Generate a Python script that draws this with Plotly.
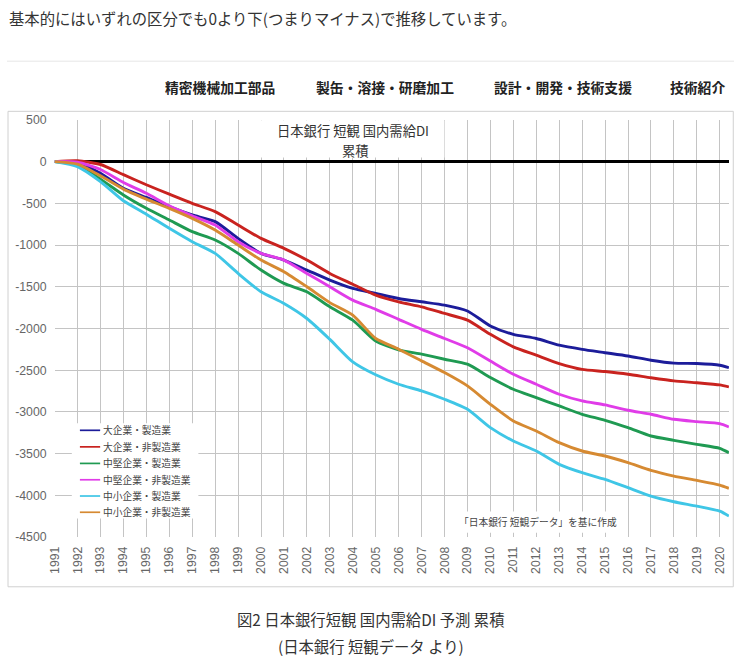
import plotly.graph_objects as go

# ---------------- data ----------------
years = [1991, 1992, 1993, 1994, 1995, 1996, 1997, 1998, 1999, 2000,
         2001, 2002, 2003, 2004, 2005, 2006, 2007, 2008, 2009, 2010,
         2011, 2012, 2013, 2014, 2015, 2016, 2017, 2018, 2019, 2020, 2020.4]

series_names = ["大企業・製造業", "大企業・非製造業", "中堅企業・製造業",
                "中堅企業・非製造業", "中小企業・製造業", "中小企業・非製造業"]
series_colors = ["#1c1c9a", "#c9231f", "#1f9a52", "#e03ce8", "#3fc6e6", "#d68a32"]

large_mfg = [0, -15, -140, -320, -430, -540, -640, -720, -920, -1100,
             -1180, -1300, -1420, -1520, -1580, -1640, -1680, -1720, -1790, -1970,
             -2070, -2120, -2200, -2250, -2290, -2330, -2380, -2415, -2420, -2440, -2470]
large_nonmfg = [0, 10, -35, -157, -278, -390, -500, -600, -760, -920,
                -1040, -1180, -1340, -1470, -1600, -1680, -1740, -1820, -1900, -2070,
                -2220, -2320, -2420, -2490, -2516, -2548, -2590, -2628, -2650, -2676, -2700]
mid_mfg = [0, -40, -210, -400, -560, -700, -840, -940, -1100, -1300,
           -1460, -1560, -1740, -1900, -2150, -2256, -2308, -2368, -2428, -2588,
           -2728, -2828, -2928, -3028, -3100, -3188, -3288, -3340, -3388, -3436, -3488]
mid_nonmfg = [0, -8, -95, -250, -380, -530, -650, -760, -960, -1100,
              -1180, -1340, -1500, -1660, -1770, -1890, -2010, -2120, -2230, -2390,
              -2548, -2668, -2788, -2868, -2916, -2980, -3028, -3088, -3116, -3140, -3180]
small_mfg = [0, -60, -240, -470, -630, -800, -960, -1100, -1340, -1560,
             -1700, -1880, -2130, -2400, -2555, -2668, -2748, -2848, -2968, -3188,
             -3348, -3468, -3628, -3728, -3808, -3908, -4008, -4076, -4128, -4188, -4248]
small_nonmfg = [0, -30, -170, -330, -450, -560, -680, -820, -1000, -1180,
                -1320, -1500, -1690, -1840, -2120, -2248, -2388, -2528, -2688, -2908,
                -3108, -3228, -3368, -3468, -3528, -3608, -3700, -3768, -3820, -3876, -3916]

series_values = [large_mfg, large_nonmfg, mid_mfg, mid_nonmfg, small_mfg, small_nonmfg]

tick_years = list(range(1991, 2021))
tick_labels = [str(y) for y in tick_years]
y_ticks = list(range(-4500, 501, 500))

chart_title_1 = "日本銀行 短観 国内需給DI"
chart_title_2 = "累積"
credit_text = "「日本銀行 短観データ」を基に作成"
intro_text = "基本的にはいずれの区分でも0より下(つまりマイナス)で推移しています。"
menu_items = ["精密機械加工部品", "製缶・溶接・研磨加工", "設計・開発・技術支援", "技術紹介"]
caption_1 = "図2 日本銀行短観 国内需給DI 予測 累積"
caption_2 = "(日本銀行 短観データ より)"

# ---------------- layout helpers ----------------
W, H = 734, 660
FRAME = 8                         # border of the photograph around the page
SX = (W - 2 * FRAME) / W
SY = (H - 2 * FRAME) / H
S = (SX + SY) / 2

def px(x):
    return ((x - FRAME) / SX) / W
def py(y):
    return 1 - ((y - FRAME) / SY) / H
def fs(size):
    return size / S

JP = "Noto Sans CJK JP"
AX = "Liberation Sans, Arial, Noto Sans CJK JP"

fig = go.Figure()
for name, color, vals in zip(series_names, series_colors, series_values):
    fig.add_trace(go.Scatter(
        x=years, y=vals, mode="lines", name=name,
        line=dict(color=color, width=2.9, shape="spline", smoothing=0.6),
        showlegend=False, hoverinfo="x+y+name"))

shapes = []
annotations = []

# header line
shapes.append(dict(type="line", xref="paper", yref="paper",
                   x0=0, x1=1, y0=py(62), y1=py(62),
                   line=dict(color="#e6e6e6", width=1)))
# chart image frame
shapes.append(dict(type="rect", xref="paper", yref="paper",
                   x0=px(9), x1=min(px(732), 0.999), y0=py(586), y1=py(112),
                   line=dict(color="#d0d0d0", width=1), layer="above"))
# title box
shapes.append(dict(type="rect", xref="paper", yref="paper",
                   x0=px(258), x1=px(440), y0=py(158), y1=py(121),
                   fillcolor="white", line=dict(width=0), layer="above"))
# legend box
shapes.append(dict(type="rect", xref="paper", yref="paper",
                   x0=px(72), x1=px(197), y0=py(518), y1=py(423),
                   fillcolor="white", line=dict(width=0), layer="above"))
# credit box
shapes.append(dict(type="rect", xref="paper", yref="paper",
                   x0=px(450), x1=px(613), y0=py(532), y1=py(511),
                   fillcolor="white", line=dict(width=0), layer="above"))

legend_rows = [430, 446.5, 463, 479.3, 495.5, 511.7]
for name, color, yy in zip(series_names, series_colors, legend_rows):
    shapes.append(dict(type="line", xref="paper", yref="paper",
                       x0=px(80), x1=px(100), y0=py(yy), y1=py(yy),
                       line=dict(color=color, width=1.7), layer="above"))
    annotations.append(dict(x=px(101), y=py(yy), xref="paper", yref="paper",
                            text=name, showarrow=False, xanchor="left", yanchor="middle",
                            font=dict(family=JP, size=fs(9.5), color="#444")))

annotations += [
    dict(x=px(350), y=py(131.5), text=chart_title_1),
    dict(x=px(352), y=py(151), text=chart_title_2),
]
for a in annotations[-2:]:
    a.update(xref="paper", yref="paper", showarrow=False, xanchor="center",
             yanchor="middle", font=dict(family=JP, size=fs(13), color="#333"))

annotations.append(dict(x=px(532), y=py(521), xref="paper", yref="paper",
                        text=credit_text, showarrow=False, xanchor="center", yanchor="middle",
                        font=dict(family=JP, size=fs(9.5), color="#444")))

annotations.append(dict(x=0, y=py(19), xref="paper", yref="paper", text=intro_text,
                        showarrow=False, xanchor="left", yanchor="middle",
                        font=dict(family=JP, size=fs(15), color="#333")))

menu_x = [218, 381, 557, 690]
for t, mx in zip(menu_items, menu_x):
    annotations.append(dict(x=px(mx), y=py(88), xref="paper", yref="paper",
                            text="<b>" + t + "</b>", showarrow=False,
                            xanchor="center", yanchor="middle",
                            font=dict(family=JP, size=fs(13.5), color="#222")))

annotations.append(dict(x=px(367), y=py(618), xref="paper", yref="paper", text=caption_1,
                        showarrow=False, xanchor="center", yanchor="middle",
                        font=dict(family=JP, size=fs(15), color="#333")))
annotations.append(dict(x=px(367), y=py(645), xref="paper", yref="paper", text=caption_2,
                        showarrow=False, xanchor="center", yanchor="middle",
                        font=dict(family=JP, size=fs(15), color="#333")))

fig.update_layout(
    width=W, height=H,
    margin=dict(l=0, r=0, t=0, b=0),
    paper_bgcolor="white", plot_bgcolor="white",
    showlegend=False,
    shapes=shapes, annotations=annotations,
    xaxis=dict(domain=[px(55), px(721)], range=[1991, 2020.4],
               tickvals=tick_years, ticktext=tick_labels, tickangle=-90,
               showgrid=True, gridcolor="#c4c4c4", gridwidth=1,
               zeroline=False, showline=False, ticks="",
               ticklabelstandoff=6,
               tickfont=dict(family=AX, size=fs(12), color="#666")),
    yaxis=dict(domain=[py(536.5), py(120.5)], range=[-4500, 500],
               tickvals=y_ticks, ticktext=[str(v) for v in y_ticks],
               showgrid=True, gridcolor="#c4c4c4", gridwidth=1,
               zeroline=True, zerolinecolor="#000", zerolinewidth=2.5,
               showline=False, ticks="", ticklabelstandoff=7,
               tickfont=dict(family=AX, size=fs(12), color="#666")),
)

fig.write_html(
    "out.html",
    config={"displayModeBar": False},
    post_script="document.body.style.margin='0';",
)
